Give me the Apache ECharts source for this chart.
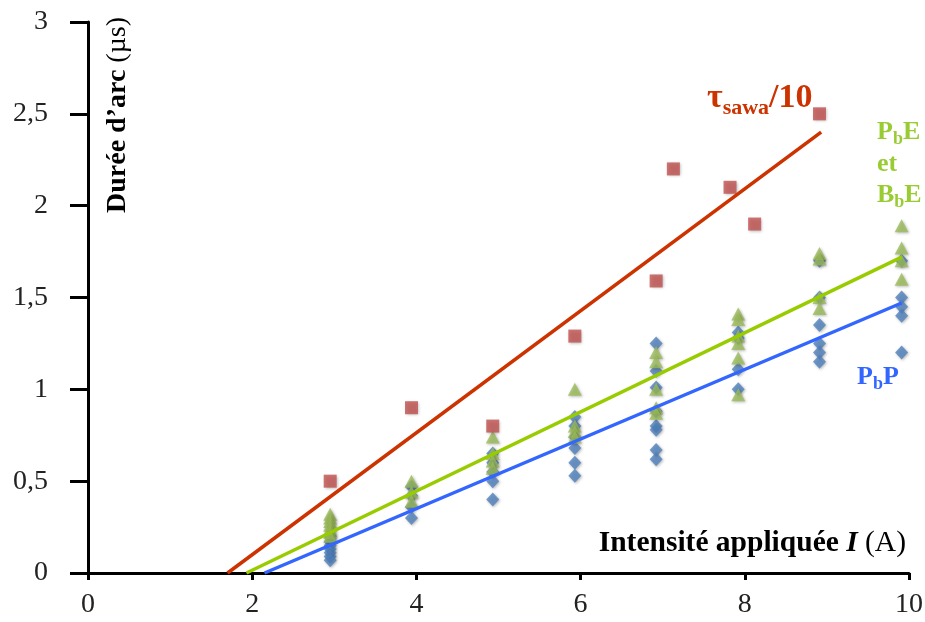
<!DOCTYPE html>
<html><head><meta charset="utf-8">
<script src="https://cdn.jsdelivr.net/npm/echarts/dist/echarts.min.js"></script>
<style>html,body{margin:0;padding:0;background:#fff}#c{width:925px;height:622px}</style>
</head><body><div id="c"></div>
<script>
// Tau_sawa / 10 (red squares)
const redX = [2.95, 3.94, 4.93, 5.93, 6.92, 7.13, 7.82, 8.12, 8.91];
const redY = [0.50, 0.90, 0.80, 1.29, 1.59, 2.20, 2.10, 1.90, 2.50];
// columns of currents for PbE/BbE (green) and PbP (blue)
const colX = [2.95, 3.94, 4.93, 5.93, 6.92, 7.92, 8.91, 9.91];
const greenY = [
  [0.32, 0.30, 0.28, 0.26, 0.24, 0.22, 0.20],
  [0.50, 0.44, 0.39],
  [0.74, 0.65, 0.61, 0.57],
  [1.00, 0.80, 0.77, 0.74],
  [1.20, 1.15, 1.00, 0.90, 0.87],
  [1.41, 1.38, 1.29, 1.25, 1.17, 0.97],
  [1.74, 1.71, 1.50, 1.44],
  [1.89, 1.77, 1.70, 1.60]
];
const blueY = [
  [0.20, 0.17, 0.15, 0.13, 0.11, 0.09, 0.07],
  [0.47, 0.42, 0.36, 0.30],
  [0.65, 0.60, 0.55, 0.50, 0.40],
  [0.85, 0.80, 0.74, 0.68, 0.60, 0.53],
  [1.25, 1.10, 1.01, 0.88, 0.80, 0.78, 0.67, 0.62],
  [1.31, 1.28, 1.11, 1.00],
  [1.70, 1.50, 1.35, 1.25, 1.20, 1.15],
  [1.70, 1.50, 1.45, 1.40, 1.20]
];
// linear fits (end points)
const redFitX = [1.70, 8.93];   const redFitY = [0, 2.40];
const greenFitX = [1.93, 9.91]; const greenFitY = [0, 1.72];
const blueFitX = [2.15, 9.91];  const blueFitY = [0, 1.47];
// axis ticks
const xTicks = [0, 2, 4, 6, 8, 10];
const yTicks = [0, 0.5, 1, 1.5, 2, 2.5, 3];

const FF = '"Liberation Serif","Times New Roman",serif';
const pairs = (xs, ys) => xs.map((x, i) => [x, ys[i]]);
const cols = (xs, yss) => { const out = []; xs.forEach((x, i) => yss[i].forEach(y => out.push([x, y]))); return out; };
const shadow = {shadowBlur: 3, shadowColor: 'rgba(0,0,0,0.35)', shadowOffsetX: 1, shadowOffsetY: 1};
const rs = (o, c) => Object.assign({fontFamily: FF, fill: c, color: c}, o);

const chart = echarts.init(document.getElementById('c'), null, {renderer: 'canvas'});
chart.setOption({
  animation: false,
  backgroundColor: '#fff',
  grid: {left: 88, right: 16, top: 22, bottom: 49, containLabel: false, outerBoundsMode: 'none'},
  xAxis: {
    type: 'value', min: xTicks[0], max: xTicks[xTicks.length - 1], interval: 2,
    axisLine: {show: true, lineStyle: {color: '#000', width: 3}},
    axisTick: {show: true, length: 7, lineStyle: {color: '#000', width: 3}},
    splitLine: {show: false},
    axisLabel: {fontSize: 28, fontFamily: FF, color: '#222', margin: 18,
      formatter: v => String(v).replace('.', ',')}
  },
  yAxis: {
    type: 'value', min: yTicks[0], max: yTicks[yTicks.length - 1], interval: 0.5,
    axisLine: {show: true, onZero: false, lineStyle: {color: '#000', width: 3}},
    axisTick: {show: true, length: 18, lineStyle: {color: '#000', width: 3}},
    splitLine: {show: false},
    axisLabel: {fontSize: 28, fontFamily: FF, color: '#222', margin: 40,
      formatter: v => String(v).replace('.', ',')}
  },
  series: [
    {type: 'scatter', name: 'PbP', data: cols(colX, blueY), symbol: 'diamond', symbolSize: [13, 14],
      itemStyle: Object.assign({color: '#4f81bd'}, shadow), z: 2},
    {type: 'scatter', name: 'PbE et BbE', data: cols(colX, greenY), symbol: 'triangle', symbolSize: [14, 13],
      itemStyle: Object.assign({color: '#9bbb59'}, shadow), z: 3},
    {type: 'scatter', name: 'tau_sawa/10', data: pairs(redX, redY), symbol: 'rect', symbolSize: 13,
      itemStyle: Object.assign({color: '#c0504d'}, shadow), z: 4},
    {type: 'line', data: pairs(redFitX, redFitY), symbol: 'none', lineStyle: {color: '#cc3300', width: 3.5}, z: 5, silent: true},
    {type: 'line', data: pairs(greenFitX, greenFitY), symbol: 'none', lineStyle: {color: '#99cc00', width: 3.5}, z: 5, silent: true},
    {type: 'line', data: pairs(blueFitX, blueFitY), symbol: 'none', lineStyle: {color: '#3366ff', width: 3.5}, z: 6, silent: true}
  ],
  graphic: [
    { type: 'text', x: 118, y: 115, rotation: Math.PI / 2, z: 10,
      style: { text: '{b|Durée d’arc}{r| (µs)}', align: 'center', textAlign: 'center', verticalAlign: 'middle', textVerticalAlign: 'middle',
        rich: { b: rs({fontSize: 28, fontWeight: 'bold'}, '#000'),
                r: rs({fontSize: 28}, '#000') } } },
    { type: 'text', x: 906, y: 526, z: 10,
      style: { text: '{b|Intensité appliquée }{bi|I}{r| (A)}', align: 'right', textAlign: 'right', verticalAlign: 'top', textVerticalAlign: 'top',
        rich: { b: rs({fontSize: 29.5, fontWeight: 'bold', lineHeight: 35}, '#000'),
                bi: rs({fontSize: 29.5, fontWeight: 'bold', fontStyle: 'italic', lineHeight: 35}, '#000'),
                r: rs({fontSize: 29.5, lineHeight: 35}, '#000') } } },
    { type: 'text', x: 707, y: 77, z: 10,
      style: { text: '{m|τ}{s|sawa}{m|/10}', align: 'left', textAlign: 'left', verticalAlign: 'top', textVerticalAlign: 'top',
        rich: { m: rs({fontSize: 34, fontWeight: 'bold', lineHeight: 42}, '#cc3300'),
                s: rs({fontSize: 22, fontWeight: 'bold', lineHeight: 22, verticalAlign: 'bottom'}, '#cc3300') } } },
    { type: 'text', x: 877, y: 117, z: 10,
      style: { text: '{m|P}{s|b}{m|E}\n{m|et}\n{m|B}{s|b}{m|E}', align: 'left', textAlign: 'left', verticalAlign: 'top', textVerticalAlign: 'top',
        rich: { m: rs({fontSize: 26, fontWeight: 'bold', lineHeight: 31.5}, '#99cc33'),
                s: rs({fontSize: 18, fontWeight: 'bold', lineHeight: 18, verticalAlign: 'bottom'}, '#99cc33') } } },
    { type: 'text', x: 857, y: 362, z: 10,
      style: { text: '{m|P}{s|b}{m|P}', align: 'left', textAlign: 'left', verticalAlign: 'top', textVerticalAlign: 'top',
        rich: { m: rs({fontSize: 26, fontWeight: 'bold', lineHeight: 31.5}, '#3366ff'),
                s: rs({fontSize: 18, fontWeight: 'bold', lineHeight: 18, verticalAlign: 'bottom'}, '#3366ff') } } }
  ]
});
</script>
</body></html>
